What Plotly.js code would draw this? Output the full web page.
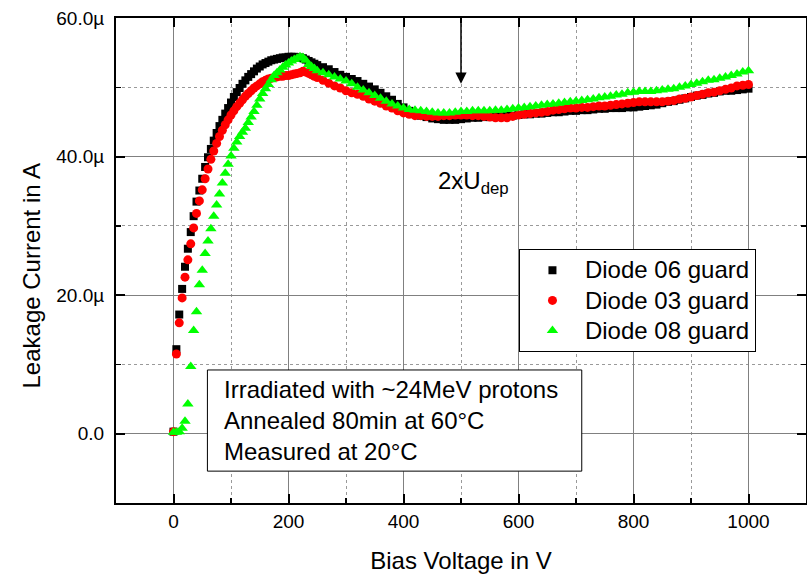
<!DOCTYPE html>
<html>
<head>
<meta charset="utf-8">
<script src="https://cdn.plot.ly/plotly-3.0.1.min.js"></script>
<style>
html,body{margin:0;padding:0;background:#fff;}
#chart{width:807px;height:576px;}
.legendtext{font-size:24px !important;}
</style>
</head>
<body>
<div id="chart"></div>
<script>
// Bias voltage (V): 5 V steps up to 250 V, 10 V steps above
const voltage = [
  0,5,10,15,20,25,30,35,40,45,50,55,60,65,70,75,80,85,90,95,
  100,105,110,115,120,125,130,135,140,145,150,155,160,165,170,175,180,185,190,195,
  200,205,210,215,220,225,230,235,240,245,250,
  260,270,280,290,300,310,320,330,340,350,360,370,380,390,400,410,420,430,440,450,
  460,470,480,490,500,510,520,530,540,550,560,570,580,590,600,610,620,630,640,650,
  660,670,680,690,700,710,720,730,740,750,760,770,780,790,800,810,820,830,840,850,
  860,870,880,890,900,910,920,930,940,950,960,970,980,990,1000
];

// Leakage current (µA)
const diode06 = [
  0.3,12.2,17.2,20.9,24.1,26.7,29.1,31.4,33.5,35.1,
  36.8,38.5,39.9,41.1,42.3,43.4,44.4,45.3,46.2,47.0,
  47.8,48.6,49.3,49.9,50.5,51.0,51.5,51.9,52.3,52.7,
  53.0,53.3,53.5,53.7,53.9,54.0,54.1,54.2,54.3,54.3,
  54.4,54.4,54.4,54.3,54.3,54.2,54.0,53.8,53.6,53.4,
  53.2,
  52.9,52.6,52.2,51.8,51.5,51.2,50.9,50.5,50.1,49.7,
  49.2,48.7,48.2,47.6,47.1,46.6,46.2,45.9,45.7,45.5,
  45.4,45.3,45.3,45.3,45.4,45.5,45.6,45.6,45.7,45.7,
  45.8,45.8,45.9,45.9,46.0,46.1,46.1,46.2,46.2,46.3,
  46.4,46.4,46.5,46.6,46.6,46.7,46.7,46.8,46.9,46.9,
  47.0,47.0,47.0,47.1,47.1,47.2,47.3,47.4,47.5,47.7,
  47.9,48.0,48.2,48.4,48.6,48.8,48.9,49.1,49.2,49.4,
  49.5,49.5,49.6,49.7,49.8
];

const diode03 = [
  0.3,11.5,16.0,19.6,22.6,25.1,27.4,29.7,31.8,33.6,
  35.2,36.8,38.2,39.6,40.8,41.9,42.9,43.8,44.6,45.3,
  46.0,46.6,47.2,47.7,48.2,48.7,49.1,49.5,49.9,50.2,
  50.5,50.8,51.0,51.2,51.3,51.4,51.5,51.6,51.6,51.7,
  51.7,51.8,51.9,52.0,52.1,52.3,52.2,52.0,51.8,51.6,
  51.4,
  51.0,50.6,50.2,49.9,49.5,49.2,49.0,48.7,48.3,48.0,
  47.7,47.3,47.0,46.6,46.3,46.1,45.9,45.9,45.8,45.8,
  45.8,45.9,45.9,46.0,46.0,46.0,45.9,45.9,45.8,45.7,
  45.6,45.6,45.6,45.8,46.0,46.1,46.2,46.3,46.4,46.5,
  46.7,46.8,46.9,47.0,47.0,47.1,47.1,47.2,47.3,47.3,
  47.4,47.5,47.6,47.7,47.8,47.9,47.9,47.9,47.9,47.9,
  48.0,48.1,48.3,48.4,48.6,48.8,49.0,49.2,49.3,49.5,
  49.7,49.9,50.2,50.3,50.4
];

const diode08 = [
  0.2,0.2,0.3,0.8,1.8,4.3,9.7,14.9,17.6,21.5,
  23.6,26.0,27.8,29.6,31.4,33.0,34.6,36.2,37.6,38.9,
  40.1,41.2,42.1,42.9,43.5,44.1,44.9,45.7,46.5,47.4,
  48.3,49.1,49.8,50.4,51.1,51.7,52.1,52.5,52.9,53.2,
  53.5,53.8,54.0,54.2,54.4,54.3,53.9,53.3,53.0,52.7,
  52.4,
  52.1,51.8,51.5,51.2,50.9,50.5,50.0,49.6,49.2,48.8,
  48.4,48.0,47.6,47.3,47.0,46.8,46.7,46.6,46.5,46.4,
  46.3,46.3,46.3,46.4,46.5,46.5,46.6,46.6,46.6,46.6,
  46.7,46.7,46.8,46.9,47.0,47.1,47.2,47.3,47.4,47.5,
  47.6,47.7,47.8,47.9,48.0,48.1,48.2,48.3,48.5,48.6,
  48.7,48.9,49.0,49.2,49.3,49.4,49.4,49.4,49.5,49.6,
  49.7,49.8,50.0,50.2,50.4,50.6,50.8,51.0,51.1,51.3,
  51.5,51.7,51.9,52.2,52.4
];

const seriesNames = ['Diode 06 guard', 'Diode 03 guard', 'Diode 08 guard'];
const yTickVals = [0, 20, 40, 60];
const yTickText = ['0.0', '20.0µ', '40.0µ', '60.0µ'];
const xTickVals = [0, 200, 400, 600, 800, 1000];
const noteLines = ['Irradiated with ~24MeV protons', 'Annealed 80min at 60°C', 'Measured at 20°C'];

const FONT = 'Liberation Sans, Arial, Helvetica, sans-serif';

const traces = [
  {x: voltage, y: diode06, name: seriesNames[0], type: 'scatter', mode: 'markers',
   marker: {symbol: 'square', size: 8, color: '#000000', line: {width: 0}}},
  {x: voltage, y: diode03, name: seriesNames[1], type: 'scatter', mode: 'markers',
   marker: {symbol: 'circle', size: 9, color: '#ff0000', line: {width: 0}}},
  {x: voltage, y: diode08, name: seriesNames[2], type: 'scatter', mode: 'markers',
   marker: {symbol: 'triangle-up', size: 10, color: '#00ff00', line: {width: 0}}}
];

const axisCommon = {
  showline: true, linecolor: '#000', linewidth: 2, mirror: 'allticks',
  ticks: 'inside', ticklen: 9, tickwidth: 2, tickcolor: '#000',
  showgrid: true, gridcolor: '#808080', gridwidth: 1, zeroline: false,
  tickfont: {family: FONT, size: 19, color: '#000'}
};

const layout = {
  width: 807, height: 576,
  margin: {l: 116, r: 1, t: 18, b: 73},
  paper_bgcolor: '#fff', plot_bgcolor: '#fff',
  font: {family: FONT, color: '#000'},
  showlegend: true,
  legend: {
    x: 0.584, y: 0.523, xanchor: 'left', yanchor: 'top',
    bgcolor: '#fff', bordercolor: '#000', borderwidth: 1,
    font: {family: FONT, size: 20.8, color: '#000'},
    itemwidth: 55, tracegroupgap: 0
  },
  xaxis: Object.assign({}, axisCommon, {
    range: [-100, 1100], tickmode: 'array', tickvals: xTickVals,
    minor: {tickmode: 'linear', tick0: 0, dtick: 100, ticks: 'inside', ticklen: 5, tickwidth: 1.5, tickcolor: '#000',
            showgrid: true, gridcolor: '#9a9a9a', griddash: 'dot', gridwidth: 1},
    title: {text: 'Bias Voltage in V', font: {family: FONT, size: 24, color: '#000'}, standoff: 21}
  }),
  yaxis: Object.assign({}, axisCommon, {
    range: [-10, 60], tickmode: 'array', tickvals: yTickVals, ticktext: yTickText,
    ticklabelstandoff: 6,
    minor: {tickmode: 'linear', tick0: 0, dtick: 10, ticks: 'inside', ticklen: 5, tickwidth: 1.5, tickcolor: '#000',
            showgrid: true, gridcolor: '#9a9a9a', griddash: 'dot', gridwidth: 1}
  }),
  shapes: [
    {type: 'rect', xref: 'x', yref: 'y', x0: 59, x1: 710, y0: -5.4, y1: 9.2,
     fillcolor: '#fff', line: {color: '#000', width: 1}, layer: 'above'}
  ],
  annotations: [
    {xref: 'paper', yref: 'paper', x: -0.1225, y: 0.468, xanchor: 'center', yanchor: 'middle',
     textangle: -90, showarrow: false, text: 'Leakage Current in A',
     font: {family: FONT, size: 24, color: '#000'}},
    {xref: 'x', yref: 'y', x: 500, y: 50.5, axref: 'x', ayref: 'y', ax: 500, ay: 60,
     text: '', showarrow: true, arrowhead: 2, arrowsize: 1.5, arrowwidth: 1.5, arrowcolor: '#000'},
    {xref: 'x', yref: 'y', x: 457, y: 36.2, xanchor: 'left', yanchor: 'middle', showarrow: false,
     text: '2xU<sub>dep</sub>', font: {family: FONT, size: 24, color: '#000'}},
    {xref: 'x', yref: 'y', x: 84.5, y: 1.9, xanchor: 'left', yanchor: 'middle', align: 'left', showarrow: false,
     text: noteLines.join('<br>'), font: {family: FONT, size: 24, color: '#000'}}
  ]
};

Plotly.newPlot('chart', traces, layout, {displayModeBar: false, staticPlot: true});
</script>
</body>
</html>
